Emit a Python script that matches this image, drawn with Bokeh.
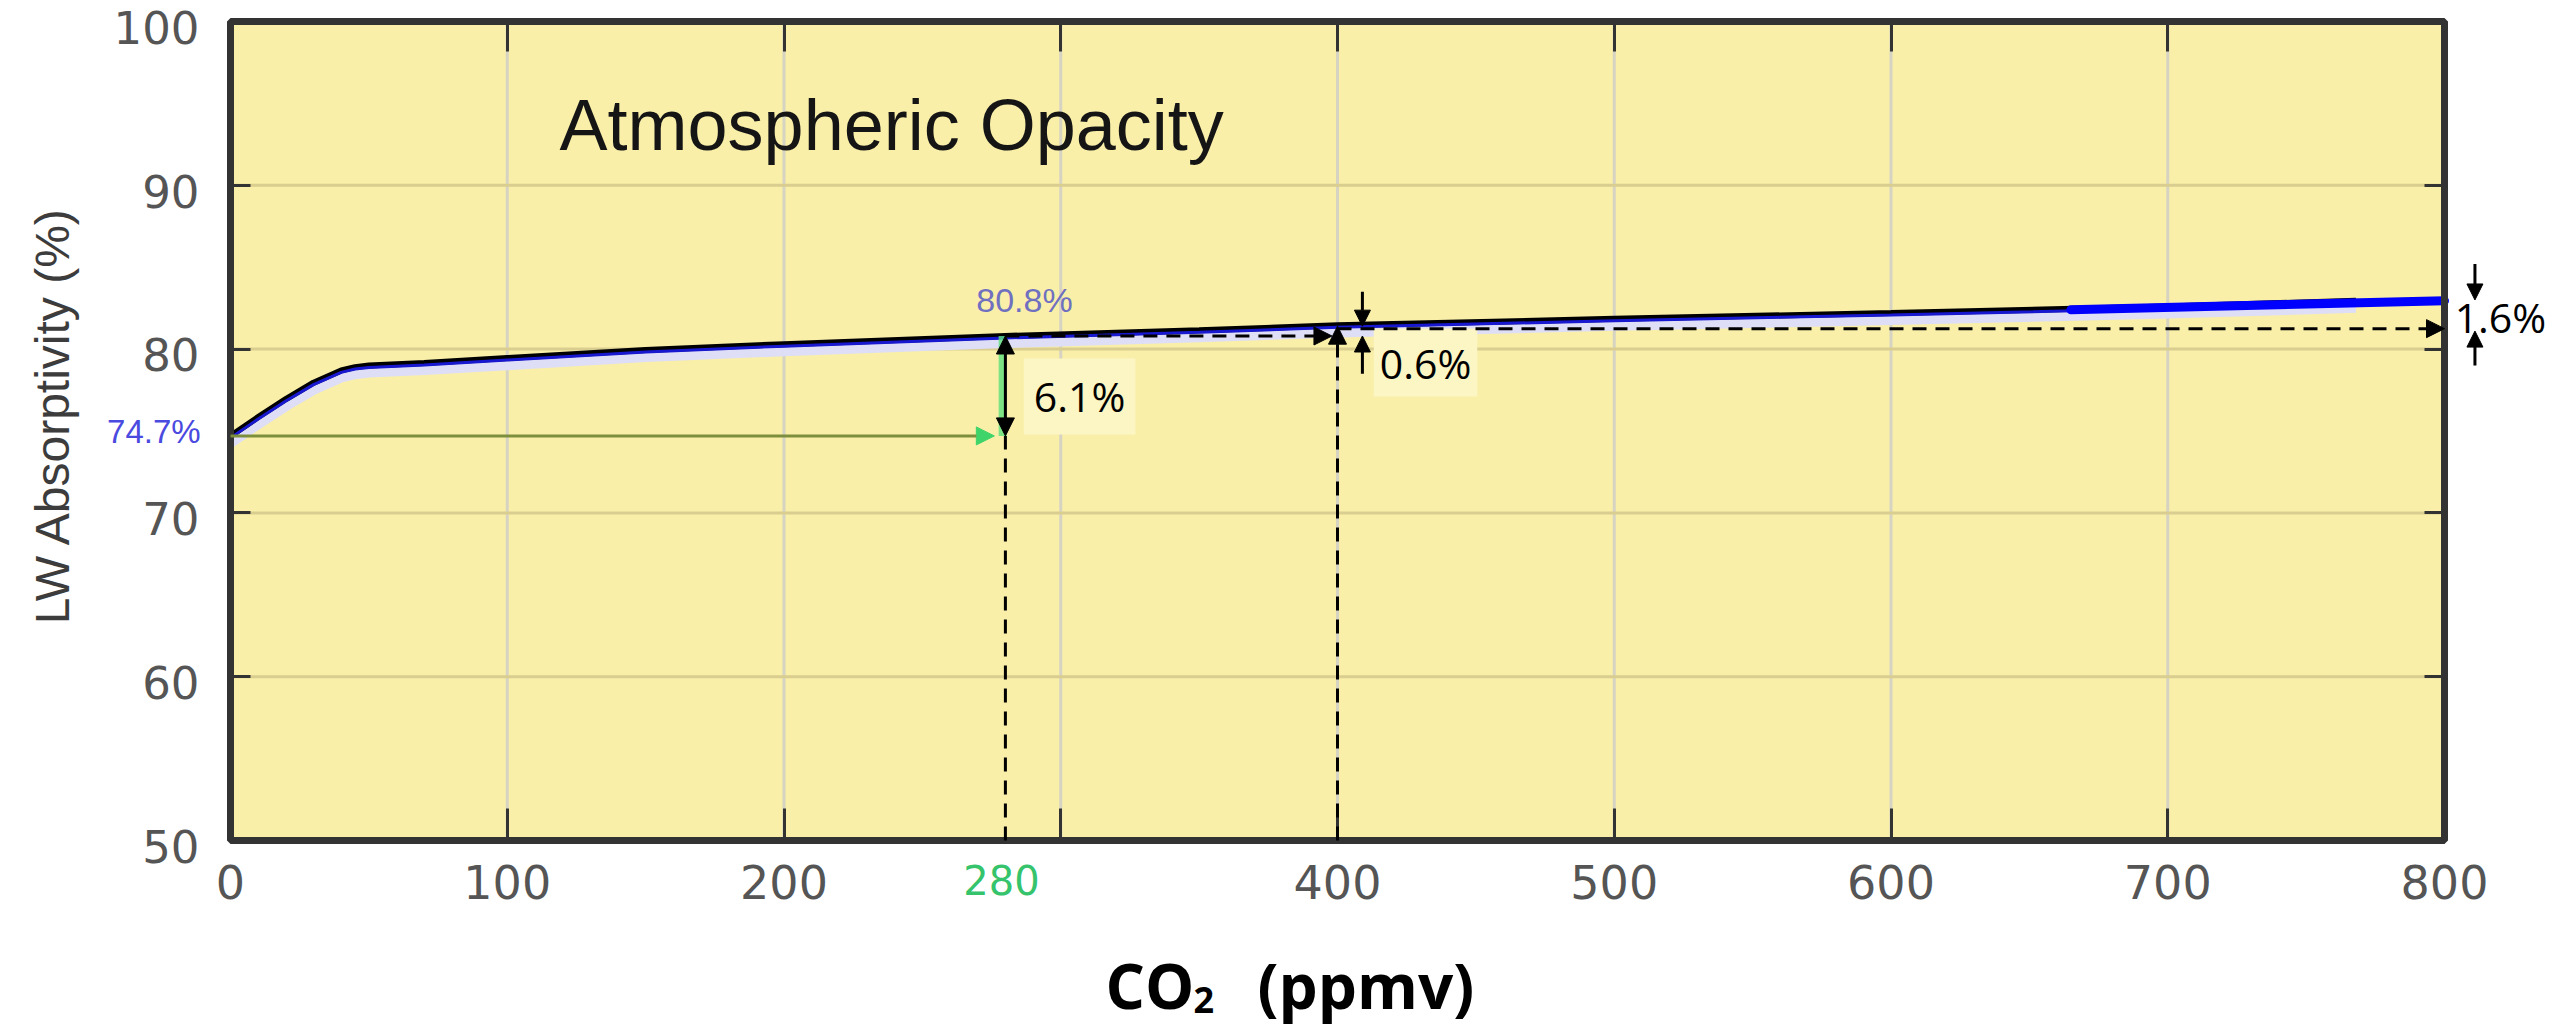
import math
from bokeh.plotting import figure
from bokeh.models import (Range1d, FixedTicker, LinearAxis, Label, Arrow,
                          NormalHead, ColumnDataSource)
from bokeh.transform import dodge
from bokeh.embed import file_html
from bokeh.resources import INLINE

# ---------------- data ----------------
co2_ppmv = [0, 10, 20, 30, 40, 45, 50, 70, 100, 150, 200, 280, 350, 400,
            500, 600, 700, 768]
lw_absorptivity = [74.7, 75.85, 76.95, 77.95, 78.7, 78.9, 79.0, 79.15, 79.45,
                   79.95, 80.3, 80.8, 81.15, 81.45, 81.85, 82.2, 82.6, 82.95]
extension_ppmv = [665, 800]
extension_absorptivity = [82.4, 82.95]

x_limits = (0, 800)
y_limits = (50, 100)
x_ticks = [0, 100, 200, 300, 400, 500, 600, 700, 800]
x_tick_labels = ["0", "100", "200", "", "400", "500", "600", "700", "800"]
y_ticks = [50, 60, 70, 80, 90, 100]
y_tick_labels = ["50", "60", "70", "80", "90", "100"]

zero_ppmv, zero_abs = 0, 74.7
pre_ppmv, pre_abs = 280, 80.8
now_ppmv, now_abs = 400, 81.4
dbl_ppmv, dbl_abs = 800, 83.0

delta_pre = "6.1%"
delta_now = "0.6%"
delta_dbl = "1.6%"
label_zero = "74.7%"
label_pre = "80.8%"

# ---------------- layout (canvas pixels) ----------------
W, H = 2546, 1026
F_LEFT, F_RIGHT, F_TOP, F_BOTTOM = 230, 2444, 21, 840
ppm_per_px = (x_limits[1] - x_limits[0]) / (F_RIGHT - F_LEFT)
pct_per_px = (y_limits[1] - y_limits[0]) / (F_BOTTOM - F_TOP)
x_range = Range1d(x_limits[0] - F_LEFT * ppm_per_px,
                  x_limits[1] + (W - F_RIGHT) * ppm_per_px)
y_range = Range1d(y_limits[0] - (H - F_BOTTOM) * pct_per_px,
                  y_limits[1] + F_TOP * pct_per_px)

YELLOW = "#f9efa9"
BORDER = "#333333"
p = figure(width=W, height=H, x_range=x_range, y_range=y_range,
           output_backend="svg", toolbar_location=None,
           x_axis_type=None, y_axis_type=None, min_border=0,
           background_fill_color="white", border_fill_color="white",
           outline_line_color=None)

# plot area
p.quad(left=[x_limits[0]], right=[x_limits[1]], bottom=[y_limits[0]],
       top=[y_limits[1]], fill_color=YELLOW, line_color=None)
# grid
p.segment(x0=x_ticks, y0=[y_limits[0]] * len(x_ticks), x1=x_ticks,
          y1=[y_limits[1]] * len(x_ticks), line_color="#d6d3c3",
          line_width=3)
p.segment(x0=[x_limits[0]] * len(y_ticks), y0=y_ticks,
          x1=[x_limits[1]] * len(y_ticks), y1=y_ticks,
          line_color="#d9cd90", line_width=3)


def tick_axis(loc, ticks, bounds, tick_len, **kw):
    return LinearAxis(fixed_location=loc, ticker=FixedTicker(ticks=ticks),
                      bounds=bounds, major_tick_in=tick_len,
                      major_tick_out=0, minor_tick_line_color=None,
                      major_tick_line_color=BORDER, major_tick_line_width=3,
                      axis_line_color=None, **kw)


# bottom axis: ticks + labels
bottom = tick_axis(y_limits[0], x_ticks, x_limits, 32,
                   major_label_overrides=dict(zip(x_ticks, x_tick_labels)),
                   major_label_standoff=24,
                   major_label_text_font="DejaVu Sans",
                   major_label_text_font_size="46px",
                   major_label_text_color="#555555")
p.add_layout(bottom, "below")

# left axis: tick marks, and its labels sit slightly below each tick
left = tick_axis(x_limits[0], y_ticks, y_limits, 20,
                 major_label_overrides={t: "" for t in y_ticks})
p.add_layout(left, "left")
y_label_pos = [t - 0.35 for t in y_ticks]
left_labels = LinearAxis(fixed_location=x_limits[0],
                         ticker=FixedTicker(ticks=y_label_pos),
                         major_tick_line_color=None,
                         minor_tick_line_color=None, axis_line_color=None,
                         major_label_overrides=dict(zip(y_label_pos,
                                                        y_tick_labels)),
                         major_label_standoff=25,
                         major_label_text_font="DejaVu Sans",
                         major_label_text_font_size="45px",
                         major_label_text_color="#555555")
p.add_layout(left_labels, "left")

# top and right: tick marks only
top = tick_axis(y_limits[1], x_ticks, x_limits, 30,
                major_label_overrides={t: "" for t in x_ticks})
right = tick_axis(x_limits[1], y_ticks, y_limits, 20,
                  major_label_overrides={t: "" for t in y_ticks})
p.add_layout(top, "above")
p.add_layout(right, "right")

# ---------------- curve ----------------
src = ColumnDataSource(dict(x=co2_ppmv, y=lw_absorptivity))
p.line(x="x", y=dodge("y", -0.4), source=src, line_color="#dedef6",
       line_width=11)
p.line(x="x", y="y", source=src, line_color="black", line_width=6)
p.line(x="x", y=dodge("y", -0.12), source=src, line_color="#1818d0",
       line_width=3)
p.line(extension_ppmv, extension_absorptivity, line_color="#0000ff",
       line_width=9, line_cap="round")

# frame border
p.quad(left=[x_limits[0]], right=[x_limits[1]], bottom=[y_limits[0]],
       top=[y_limits[1]], fill_color=None, line_color=BORDER, line_width=7)

# ---------------- annotations ----------------
DASH = "14 9"


def head(color="black", size=18):
    return NormalHead(size=size, fill_color=color, line_color=color)


# green horizontal arrow at zero-CO2 level
p.add_layout(Arrow(x_start=zero_ppmv, y_start=zero_abs, x_end=pre_ppmv - 4,
                   y_end=zero_abs, line_color="#7d8f3c", line_width=3,
                   end=head("#3fd46a", 18)))
# green vertical marker at 280
p.segment(x0=[pre_ppmv - 1], y0=[zero_abs], x1=[pre_ppmv - 1], y1=[pre_abs],
          line_color="#5ee07c", line_width=8, line_alpha=0.8)
# dashed vertical at 280 below the arrow
p.segment(x0=[pre_ppmv], y0=[y_limits[0]], x1=[pre_ppmv], y1=[zero_abs],
          line_color="black", line_width=3, line_dash=DASH)
# 6.1 % double arrow
p.add_layout(Arrow(x_start=pre_ppmv, y_start=zero_abs, x_end=pre_ppmv,
                   y_end=pre_abs, line_color="black", line_width=3,
                   start=head(), end=head()))
# dashed horizontal 280 -> 400
p.add_layout(Arrow(x_start=pre_ppmv, y_start=pre_abs, x_end=now_ppmv - 2,
                   y_end=pre_abs, line_color="black", line_width=3,
                   line_dash=DASH, end=head()))
# dashed vertical at 400 up to the curve
p.add_layout(Arrow(x_start=now_ppmv, y_start=y_limits[0], x_end=now_ppmv,
                   y_end=now_abs, line_color="black", line_width=3,
                   line_dash=DASH, end=head()))
# 0.6 % pair of arrows
p.add_layout(Arrow(x_start=now_ppmv + 9, y_start=83.5, x_end=now_ppmv + 9,
                   y_end=now_abs, line_color="black", line_width=3,
                   end=head(size=16)))
p.add_layout(Arrow(x_start=now_ppmv + 9, y_start=78.5, x_end=now_ppmv + 9,
                   y_end=pre_abs, line_color="black", line_width=3,
                   end=head(size=16)))


# ---------------- texts ----------------
def label(x, y, text, font, size, color, align="center", baseline="middle",
          **kw):
    p.add_layout(Label(x=x, y=y, text=text, text_font=font,
                       text_font_size=size, text_color=color,
                       text_align=align, text_baseline=baseline, **kw))


label(118.9, 93.71, "Atmospheric Opacity", "Liberation Sans", "72px",
      "#151515", align="left")
label(-64.3, 75.95, "LW Absorptivity (%)", "Liberation Sans", "48px",
      "#3c3c3c", angle=math.pi / 2)
label(-10.8, 74.97, label_zero, "Liberation Sans", "33px", "#4a4ae0",
      align="right")
label(286.9, 82.97, label_pre, "Liberation Sans", "34px", "#7070c0")
label(306.8, 77.11, delta_pre, "Open Sans", "41px", "black",
      background_fill_color="#fcf5c4", padding=10)
label(431.8, 79.18, delta_now, "Open Sans", "41px", "black",
      background_fill_color="#fcf5c4", padding=6)
label(820.2, 81.93, delta_dbl, "Open Sans", "41px", "black")
label(278.6, 47.56, "280", "DejaVu Sans", "40px", "#35c46c")
label(316.2, 41.2, "CO", "Open Sans", "62px", "black", align="left",
      text_font_style="bold")
label(348.0, 40.25, "2", "Open Sans", "36px", "black", align="left",
      text_font_style="bold")
label(371.1, 41.2, "(ppmv)", "Open Sans", "62px", "black", align="left",
      text_font_style="bold")

# dashed horizontal 400 -> 800 (drawn above the 0.6 % box)
p.add_layout(Arrow(x_start=now_ppmv, y_start=now_abs - 0.15,
                   x_end=dbl_ppmv, y_end=now_abs - 0.15, line_color="black",
                   line_width=3, line_dash=DASH, end=head()))
# 1.6 % pair of arrows (right of the plot area)
p.add_layout(Arrow(x_start=dbl_ppmv + 11, y_start=85.2, x_end=dbl_ppmv + 11,
                   y_end=dbl_abs, line_color="black", line_width=3,
                   end=head(size=16)))
p.add_layout(Arrow(x_start=dbl_ppmv + 11, y_start=79.0, x_end=dbl_ppmv + 11,
                   y_end=now_abs - 0.3, line_color="black", line_width=3,
                   end=head(size=16)))

open("out.html", "w").write(file_html(p, INLINE))
